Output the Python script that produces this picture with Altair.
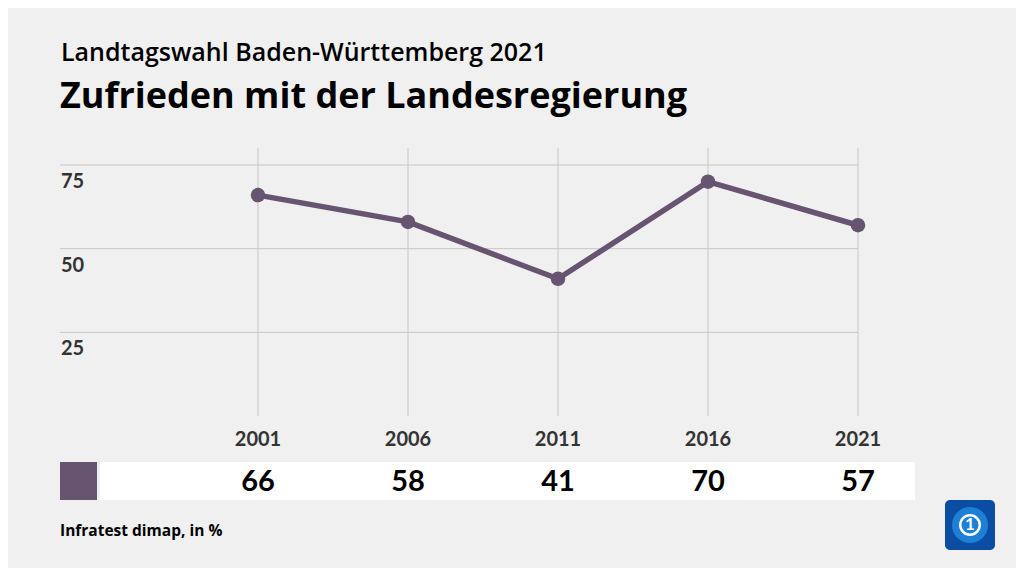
import altair as alt
import pandas as pd

years = [2001, 2006, 2011, 2016, 2021]
values = [66, 58, 41, 70, 57]
y_ticks = [25, 50, 75]
title = "Landtagswahl Baden-Württemberg 2021"
subtitle = "Zufrieden mit der Landesregierung"
source = "Infratest dimap, in %"

LINE = "#665470"
GRID = "#c6c6c6"
FONT = "Lato"
TFONT = "Open Sans"

df = pd.DataFrame({"year": years, "value": values, "label": [str(v) for v in values],
                   "ylab": [str(y) for y in years]})
ticks = pd.DataFrame({"tick": y_ticks, "label": [str(t) for t in y_ticks]})
one = pd.DataFrame({"a": [0]})

xs = alt.Scale(domain=[2001, 2021], range=[250, 850])
ys = alt.Scale(domain=[0, 75], range=[408, 157])

hgrid = alt.Chart(ticks).mark_rule(color=GRID, strokeWidth=1).encode(
    y=alt.Y("tick:Q", scale=ys, axis=None),
    x=alt.value(52), x2=alt.value(850))
vgrid = alt.Chart(df).mark_rule(color=GRID, strokeWidth=1).encode(
    x=alt.X("year:Q", scale=xs, axis=None),
    y=alt.value(140), y2=alt.value(408))
ylabels = alt.Chart(ticks).mark_text(align="left", baseline="middle", dy=17, font=FONT,
                                     fontWeight="bold", fontSize=20, color="#333333").encode(
    y=alt.Y("tick:Q", scale=ys, axis=None), x=alt.value(53), text="label:N")
line = alt.Chart(df).mark_line(color=LINE, strokeWidth=5.5).encode(
    x=alt.X("year:Q", scale=xs, axis=None), y=alt.Y("value:Q", scale=ys, axis=None))
pts = alt.Chart(df).mark_circle(color=LINE, opacity=1, size=210).encode(
    x=alt.X("year:Q", scale=xs, axis=None), y=alt.Y("value:Q", scale=ys, axis=None))
xlabels = alt.Chart(df).mark_text(baseline="middle", font=FONT, fontWeight="bold",
                                  fontSize=20, color="#333333").encode(
    x=alt.X("year:Q", scale=xs, axis=None), y=alt.value(432), text="ylab:N")
band = alt.Chart(one).mark_rect(color="white").encode(
    x=alt.value(92), x2=alt.value(907), y=alt.value(454), y2=alt.value(492))
swatch = alt.Chart(one).mark_rect(color=LINE).encode(
    x=alt.value(52), x2=alt.value(89), y=alt.value(454), y2=alt.value(492))
vlabels = alt.Chart(df).mark_text(baseline="middle", font=FONT, fontWeight="bold",
                                  fontSize=29, color="#000000").encode(
    x=alt.X("year:Q", scale=xs, axis=None), y=alt.value(474), text="label:N")
t1 = alt.Chart(one).mark_text(align="left", baseline="alphabetic", font=TFONT, fontWeight=600,
                              fontSize=25, color="#000000", text=title).encode(
    x=alt.value(53), y=alt.value(53))
t2 = alt.Chart(one).mark_text(align="left", baseline="alphabetic", font=TFONT, fontWeight="bold",
                              fontSize=36, color="#000000", text=subtitle).encode(
    x=alt.value(52), y=alt.value(100))
foot = alt.Chart(one).mark_text(align="left", baseline="alphabetic", font=TFONT, fontWeight="bold",
                                fontSize=15.5, color="#000000", text=source).encode(
    x=alt.value(52), y=alt.value(528))
logo = alt.Chart(one).mark_rect(color="#0a4da3", cornerRadius=5).encode(
    x=alt.value(937), x2=alt.value(987), y=alt.value(492), y2=alt.value(542))
globe = alt.Chart(one).mark_point(shape="circle", filled=True, color="#1d7fd6", opacity=1, size=1300).encode(
    x=alt.value(962), y=alt.value(517))
ring = alt.Chart(one).mark_point(shape="circle", filled=False, color="white", opacity=1, strokeWidth=2.5, size=380).encode(
    x=alt.value(962), y=alt.value(517))
one_t = alt.Chart(one).mark_text(font=FONT, fontWeight="bold", fontSize=17, color="white", text="1",
                                 baseline="middle").encode(
    x=alt.value(962), y=alt.value(517))

chart = alt.layer(hgrid, vgrid, ylabels, line, pts, xlabels, band, swatch, vlabels,
                  t1, t2, foot, logo, globe, ring, one_t).properties(
    width=1008, height=560, padding=0,
    autosize=alt.AutoSizeParams(type="none"), background="#f0f0f0"
).configure_view(stroke=None)

chart.save("out.html", embed_options={"renderer": "svg", "actions": False})
